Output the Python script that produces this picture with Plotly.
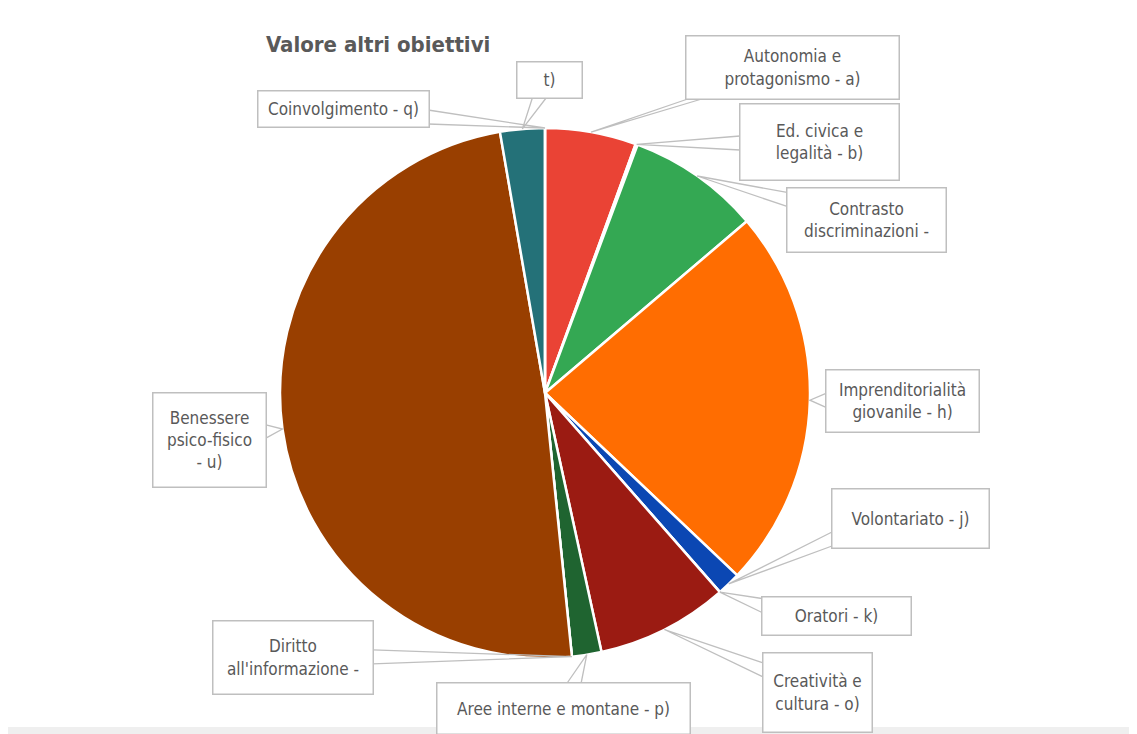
import math
import plotly.graph_objects as go

# ---- data ----
labels = [
    "Autonomia e<br>protagonismo - a)",
    "Ed. civica e<br>legalità - b)",
    "Contrasto<br>discriminazioni -",
    "Imprenditorialità<br>giovanile - h)",
    "Volontariato - j)",
    "Oratori - k)",
    "Creatività e<br>cultura - o)",
    "Aree interne e montane - p)",
    "Diritto<br>all'informazione -",
    "Benessere<br>psico-fisico<br>- u)",
    "t)",
    "Coinvolgimento - q)",
]
values = [5.56, 0.12, 8.1, 23.3, 1.45, 0.0, 8.05, 1.8, 0.0, 48.9, 2.72, 0.0]
colors = ["#EA4335", "#FBBC04", "#34A853", "#FF6D01", "#0B47B3", "#46BDC6",
          "#9B1B12", "#1F6430", "#7BAAF7", "#993F00", "#247178", "#F07B72"]

# label box centres / sizes in screen pixels (layout)
boxes = [
    (792, 68, 212, 62),
    (819, 142, 158, 75),
    (866, 220, 158, 63),
    (902, 401, 152, 61),
    (910, 518, 156, 58),
    (836, 616, 148, 37),
    (817, 692, 108, 78),
    (563, 708, 252, 50),
    (293, 657, 159, 72),
    (209, 440, 112, 93),
    (549, 80, 64, 35),
    (343, 109, 170, 35),
]

W, H = 1137, 734
OFF = 8  # page body margin
CX, CY, R = 545, 393, 265
GRID = "#BFBFBF"
TXT = "#595959"
FONT = "Liberation Sans Narrow, DejaVu Sans Condensed, Arial Narrow, sans-serif"


def px(sx):
    return (sx - OFF) / W


def py(sy):
    return 1 - (sy - OFF) / H


def wedge_base(bx, by, bw, bh, hx, hy, half=7):
    """Two points on the box edge facing the head point."""
    dx, dy = hx - bx, hy - by
    hw, hh = bw / 2, bh / 2
    tx = hw / abs(dx) if dx else float("inf")
    ty = hh / abs(dy) if dy else float("inf")
    if tx < ty:  # exits through left/right side
        sx = bx + math.copysign(hw, dx)
        yy = by + dy * tx
        yy = min(max(yy, by - hh + half + 1), by + hh - half - 1)
        return (sx, yy - half), (sx, yy + half)
    sy = by + math.copysign(hh, dy)
    xx = bx + dx * ty
    xx = min(max(xx, bx - hw + half + 1), bx + hw - half - 1)
    return (xx - half, sy), (xx + half, sy)


fig = go.Figure(go.Pie(
    labels=[l.replace("<br>", " ") for l in labels],
    values=values,
    sort=False,
    direction="clockwise",
    rotation=0,
    textinfo="none",
    hoverinfo="label+percent",
    marker=dict(colors=colors, line=dict(color="white", width=2.5)),
    domain=dict(x=[px(CX - R), px(CX + R)], y=[py(CY + R), py(CY - R)]),
    showlegend=False,
))

total = sum(values)
cum = 0.0
annotations = []
shapes = [dict(type="rect", xref="paper", yref="paper", x0=0, x1=px(1131),
               y0=py(727), y1=1, fillcolor="white", line=dict(width=0), layer="below")]
for lab, v, (bx, by, bw, bh) in zip(labels, values, boxes):
    mid = (cum + v / 2) / total * 2 * math.pi
    cum += v
    hx = CX + R * math.sin(mid)
    hy = CY - R * math.cos(mid)
    p1, p2 = wedge_base(bx, by, bw, bh, hx, hy)
    shapes.append(dict(
        type="path", xref="paper", yref="paper",
        path=f"M {px(p1[0])} {py(p1[1])} L {px(hx)} {py(hy)} L {px(p2[0])} {py(p2[1])}",
        line=dict(color=GRID, width=1.3), fillcolor="rgba(0,0,0,0)", layer="above",
    ))
    annotations.append(dict(
        x=px(bx), y=py(by), xref="paper", yref="paper",
        xanchor="center", yanchor="middle",
        text=lab, showarrow=False,
        font=dict(family=FONT, size=17, color=TXT),
        bordercolor=GRID, borderwidth=1.5, borderpad=0, bgcolor="white",
        width=bw, height=bh, align="center", valign="middle",
    ))

annotations.append(dict(
    x=px(264), y=py(44), xref="paper", yref="paper", xanchor="left", yanchor="middle",
    text="<b>Valore altri obiettivi</b>", showarrow=False,
    font=dict(family=FONT, size=22, color=TXT),
))

fig.update_layout(
    width=W, height=H,
    margin=dict(l=0, r=0, t=0, b=0),
    paper_bgcolor="#EFEFEF",
    plot_bgcolor="white",
    annotations=annotations,
    shapes=shapes,
)

fig.write_html("out.html")
